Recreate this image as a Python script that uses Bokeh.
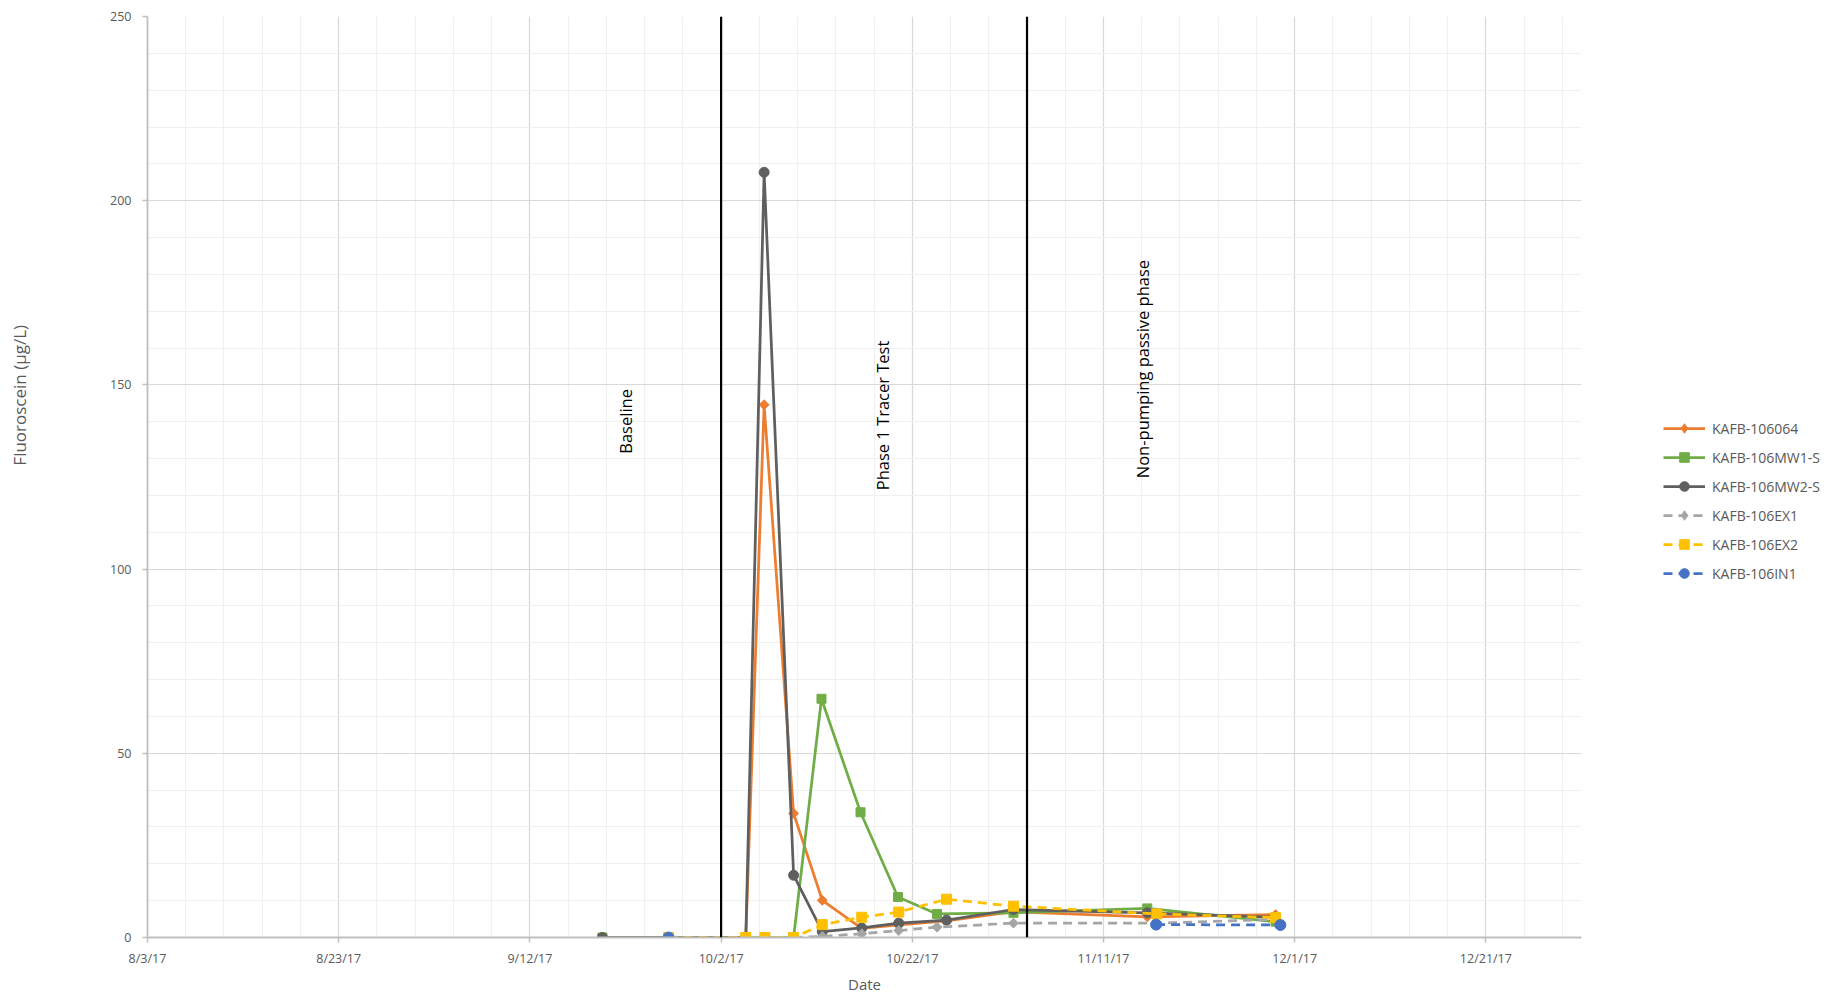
import math
import numpy as np
import pandas as pd
from bokeh.plotting import figure
from bokeh.models import (FixedTicker, Legend, LegendItem, Span, ColumnDataSource,
                          Range1d, Label)
from bokeh.embed import file_html
from bokeh.resources import INLINE

# ---------------- data ----------------
series_names = ["KAFB-106064", "KAFB-106MW1-S", "KAFB-106MW2-S",
                "KAFB-106EX1", "KAFB-106EX2", "KAFB-106IN1"]

s064_dates = ["2017-09-19 14:00", "2017-10-04 14:00", "2017-10-06 12:00", "2017-10-09 14:00",
              "2017-10-12 14:00", "2017-10-16 17:00", "2017-10-20 14:00", "2017-10-25 14:00",
              "2017-11-01 14:00", "2017-11-15 14:00", "2017-11-29 00:00"]
s064_vals = [0.0, 0.0, 144.6, 33.7, 10.1, 2.5, 3.4, 4.5, 7.0, 5.6, 6.2]

mw1_dates = ["2017-09-19 14:00", "2017-10-04 14:00", "2017-10-06 14:00", "2017-10-09 14:00",
             "2017-10-12 12:00", "2017-10-16 14:00", "2017-10-20 12:00", "2017-10-24 14:00",
             "2017-11-01 14:00", "2017-11-15 14:00", "2017-11-29 00:00"]
mw1_vals = [0.0, 0.0, 0.0, 0.0, 64.8, 34.0, 11.0, 6.4, 6.7, 7.9, 4.3]

mw2_dates = ["2017-09-19 14:00", "2017-10-04 14:00", "2017-10-06 12:00", "2017-10-09 14:00",
             "2017-10-12 14:00", "2017-10-16 17:00", "2017-10-20 14:00", "2017-10-25 14:00",
             "2017-11-01 14:00", "2017-11-15 14:00", "2017-11-29 00:00"]
mw2_vals = [0.0, 0.0, 207.7, 16.9, 1.6, 2.6, 3.9, 4.7, 7.6, 6.7, 5.5]

ex1_dates = ["2017-10-09 14:00", "2017-10-12 14:00", "2017-10-16 17:00", "2017-10-20 14:00",
             "2017-10-24 14:00", "2017-11-01 14:00", "2017-11-16 12:00", "2017-11-29 00:00"]
ex1_vals = [0.0, 0.3, 1.0, 1.9, 2.8, 3.9, 3.9, 4.9]

ex2_dates = ["2017-09-26 12:00", "2017-10-04 14:00", "2017-10-06 14:00", "2017-10-09 14:00",
             "2017-10-12 14:00", "2017-10-16 17:00", "2017-10-20 14:00", "2017-10-25 14:00",
             "2017-11-01 14:00", "2017-11-16 14:00", "2017-11-29 00:00"]
ex2_vals = [0.0, 0.0, 0.0, 0.0, 3.5, 5.5, 6.9, 10.4, 8.5, 6.4, 5.4]

# None marks a break in the line (no connection between sample groups)
in1_dates = ["2017-09-26 12:00", "2017-09-26 12:00", "2017-11-16 12:00", "2017-11-29 12:00"]
in1_vals = [0.0, None, 3.5, 3.4]

phase_boundaries = ["2017-10-02", "2017-11-03"]
phase_labels = ["Baseline", "Phase 1 Tracer Test", "Non-pumping passive phase"]

x_tick_dates = ["2017-08-03", "2017-08-23", "2017-09-12", "2017-10-02",
                "2017-10-22", "2017-11-11", "2017-12-01", "2017-12-21"]
x_tick_labels = ["8/3/17", "8/23/17", "9/12/17", "10/2/17",
                 "10/22/17", "11/11/17", "12/1/17", "12/21/17"]
y_ticks = [0, 50, 100, 150, 200, 250]
y_title = "Fluoroscein (µg/L)"
x_title = "Date"

# ---------------- styles ----------------
QUARTER = math.pi / 4
styles = [
    dict(color="#ED7D31", marker="square", angle=QUARTER, size=7, dash="solid", legend_marker="diamond"),
    dict(color="#70AD47", marker="square", angle=0.0, size=9, dash="solid", legend_marker=None),
    dict(color="#5F5F5F", marker="circle", angle=0.0, size=10, dash="solid", legend_marker=None),
    dict(color="#A5A5A5", marker="square", angle=QUARTER, size=7, dash="9 6", legend_marker="diamond"),
    dict(color="#FFC000", marker="square", angle=0.0, size=10, dash="9 6", legend_marker=None),
    dict(color="#4472C4", marker="circle", angle=0.0, size=11, dash="9 6", legend_marker=None),
]
all_dates = [s064_dates, mw1_dates, mw2_dates, ex1_dates, ex2_dates, in1_dates]
all_vals = [s064_vals, mw1_vals, mw2_vals, ex1_vals, ex2_vals, in1_vals]


def ms(d):
    return pd.Timestamp(d).value / 1e6


FONT = "Open Sans"
TXT = "#595959"

x_start = ms("2017-08-03")
x_end = ms("2017-12-31")
day = 86400000.0

p = figure(frame_width=1434, frame_height=921, x_axis_type="datetime",
           output_backend="svg", toolbar_location=None,
           x_range=Range1d(x_start, x_end), y_range=Range1d(0, 250),
           min_border_left=147, min_border_right=0,
           min_border_top=16, min_border_bottom=0)
p.outline_line_color = None
p.background_fill_color = "white"

major_x = [ms(d) for d in x_tick_dates]
minor_x = [x_start + k * 4 * day for k in range(0, 38)]
xt = FixedTicker(ticks=major_x, minor_ticks=minor_x)
yt = FixedTicker(ticks=y_ticks, minor_ticks=list(range(0, 251, 10)))
p.xaxis.ticker = xt
p.yaxis.ticker = yt
p.xgrid.ticker = xt
p.ygrid.ticker = yt
p.xaxis.major_label_overrides = {ms(d): lab for d, lab in zip(x_tick_dates, x_tick_labels)}

for g in (p.xgrid, p.ygrid):
    g.grid_line_color = "#D9D9D9"
    g.grid_line_width = 1.2
    g.minor_grid_line_color = "#F0F0F0"
    g.minor_grid_line_width = 1.2

for ax in (p.xaxis, p.yaxis):
    ax.axis_line_color = "#BFBFBF"
    ax.axis_line_width = 1.8
    ax.major_tick_line_color = "#BFBFBF"
    ax.major_tick_line_width = 1.5
    ax.major_tick_out = 5
    ax.major_tick_in = 0
    ax.minor_tick_out = 0
    ax.minor_tick_in = 0
    ax.major_label_text_font = FONT
    ax.major_label_text_font_size = "12.5px"
    ax.major_label_text_color = TXT
    ax.axis_label_text_font = FONT
    ax.axis_label_text_font_size = "15px"
    ax.axis_label_text_color = TXT
    ax.axis_label_text_font_style = "normal"

p.xaxis.axis_label = x_title
p.xaxis.major_label_standoff = 7
p.xaxis.axis_label_standoff = 4
# the reference places the y title above the vertical middle of the plot:
# leading no-break spaces shift the visible text upward along the axis
p.yaxis.axis_label = "\u00a0" * 37 + y_title
p.yaxis.axis_label_text_font_size = "17px"
p.yaxis.major_label_standoff = 11
p.yaxis.axis_label_standoff = 76

# phase boundaries
for d in phase_boundaries:
    p.add_layout(Span(location=ms(d), dimension="height", line_color="black",
                      line_width=2.2, level="overlay"))

# phase labels (annotation placement)
label_pos = [("2017-09-22 00:00", 140.1), ("2017-10-18 22:00", 141.7), ("2017-11-15 01:00", 154.3)]
for text, (d, yv) in zip(phase_labels, label_pos):
    p.add_layout(Label(x=ms(d), y=yv, text=text, angle=math.pi / 2,
                       text_align="center", text_baseline="middle",
                       text_font="Open Sans", text_font_size="16.5px",
                       text_color="black"))

items = []
for name, dates, vals, st in zip(series_names, all_dates, all_vals, styles):
    src = ColumnDataSource(dict(x=pd.to_datetime(dates),
                                y=np.array([np.nan if v is None else v for v in vals], dtype=float)))
    lr = p.line("x", "y", source=src, line_color=st["color"], line_width=2.75,
                line_dash=st["dash"])
    sr = p.scatter("x", "y", source=src, marker=st["marker"], size=st["size"],
                   angle=st["angle"], fill_color=st["color"], line_color=st["color"])
    legend_renderers = [lr, sr]
    if st["legend_marker"]:
        # legend swatch only (legend markers are never rotated): a glyph with
        # a single undefined point, so nothing is drawn inside the plot
        swatch = ColumnDataSource(dict(x=[np.nan], y=[np.nan]))
        lm = p.scatter("x", "y", source=swatch, marker=st["legend_marker"], size=12,
                       fill_color=st["color"], line_color=st["color"])
        legend_renderers = [lr, lm]
    items.append(LegendItem(label=name, renderers=legend_renderers))

legend = Legend(items=items, location=(82, 352), margin=0, padding=10,
                glyph_width=42, glyph_height=24, label_standoff=7, spacing=5,
                label_text_font=FONT, label_text_font_size="14px",
                label_text_color=TXT, border_line_color=None,
                background_fill_alpha=0)
p.add_layout(legend, "right")

open("out.html", "w").write(file_html(p, INLINE))
